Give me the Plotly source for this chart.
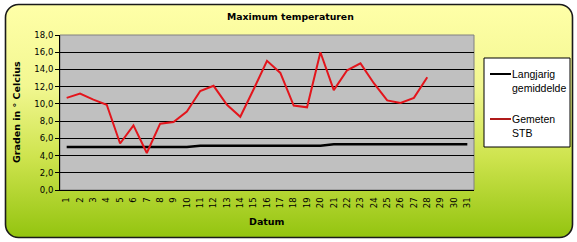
import base64
import plotly.graph_objects as go

# ---- data ----
days = list(range(1, 32))
day_labels = [str(d) for d in days]
langjarig = [5.0] * 10 + [5.15] * 10 + [5.3] * 11
gemeten = [10.7, 11.2, 10.5, 9.9, 5.4, 7.5, 4.3, 7.7, 7.9, 9.1,
           11.5, 12.1, 9.9, 8.5, 11.7, 15.0, 13.6, 9.8, 9.6, 16.0,
           11.6, 13.9, 14.7, 12.4, 10.4, 10.1, 10.7, 13.1]
gemeten_days = days[:len(gemeten)]
y_ticks = [0, 2, 4, 6, 8, 10, 12, 14, 16, 18]
y_ticklabels = ["0,0", "2,0", "4,0", "6,0", "8,0", "10,0", "12,0", "14,0", "16,0", "18,0"]
series_names = ["Langjarig<br>gemiddelde", "Gemeten<br>STB"]
title_text = "Maximum temperaturen"
x_title = "Datum"
y_title = "Graden in ° Celcius"

# ---- geometry (px) ----
W, H = 577, 242
L, R, T, B = 60, 474, 35, 190
pw, ph = R - L, B - T


def px(x):
    return (x - L) / pw


def py(y):
    return (B - y) / ph


RED = "#E3151C"

svg = f'''<svg xmlns="http://www.w3.org/2000/svg" width="{W}" height="{H}" viewBox="0 0 {W} {H}">
<defs><linearGradient id="g" x1="0" y1="0" x2="0" y2="1">
<stop offset="0" stop-color="#FFFFA8"/>
<stop offset="0.35" stop-color="#F2F791"/>
<stop offset="0.65" stop-color="#CFE44F"/>
<stop offset="1" stop-color="#93C40F"/>
</linearGradient></defs>
<rect x="5.5" y="4.5" width="{W-10}" height="{H-9}" rx="13" ry="13" fill="url(#g)" stroke="#1a1a1a" stroke-width="1.6"/>
</svg>'''
svg_uri = "data:image/svg+xml;base64," + base64.b64encode(svg.encode()).decode()

fig = go.Figure()
fig.add_trace(go.Scatter(x=days, y=langjarig, mode="lines", name="Langjarig gemiddelde",
                         line=dict(color="black", width=2.5), showlegend=False))
fig.add_trace(go.Scatter(x=gemeten_days, y=gemeten, mode="lines", name="Gemeten STB",
                         line=dict(color=RED, width=2), showlegend=False))

tickfont = dict(family="DejaVu Sans", size=8.5, color="black")

fig.update_layout(
    width=W, height=H,
    margin=dict(l=L, r=W - R, t=T, b=H - B, pad=0),
    paper_bgcolor="white",
    plot_bgcolor="rgba(0,0,0,0)",
    showlegend=False,
    images=[dict(source=svg_uri, xref="paper", yref="paper",
                 x=-L / pw, y=1 + T / ph, sizex=W / pw, sizey=H / ph,
                 xanchor="left", yanchor="top", sizing="stretch", layer="below")],
    xaxis=dict(range=[0.5, 31.5], tickmode="array", tickvals=days, ticktext=day_labels,
               tickangle=-90, tickfont=tickfont, showgrid=False, zeroline=False,
               showline=True, linecolor="black", linewidth=1, ticks="", ticklabelstandoff=3),
    yaxis=dict(range=[0, 18], tickmode="array", tickvals=y_ticks, ticktext=y_ticklabels,
               tickfont=tickfont, showgrid=True, gridcolor="black", gridwidth=1,
               zeroline=False, showline=True, linecolor="black", linewidth=1,
               ticks="outside", ticklen=4, tickcolor="black"),
    shapes=[
        dict(type="rect", xref="x domain", yref="y domain", x0=0, x1=1, y0=0, y1=1,
             fillcolor="#C0C0C0", line=dict(color="#808080", width=1), layer="below"),
        # legend box
        dict(type="rect", xref="paper", yref="paper", x0=px(484), x1=px(570), y0=py(147), y1=py(58),
             fillcolor="white", line=dict(color="black", width=1), layer="above"),
        dict(type="line", xref="paper", yref="paper", x0=px(490), x1=px(511), y0=py(74), y1=py(74),
             line=dict(color="black", width=2), layer="above"),
        dict(type="line", xref="paper", yref="paper", x0=px(490), x1=px(511), y0=py(119), y1=py(119),
             line=dict(color="#B01A1A", width=2), layer="above"),
    ],
    annotations=[
        dict(text=f"<b>{title_text}</b>", xref="paper", yref="paper", x=px(290), y=py(16),
             xanchor="center", yanchor="middle", showarrow=False,
             font=dict(family="DejaVu Sans", size=9.3, color="black")),
        dict(text=f"<b>{x_title}</b>", xref="paper", yref="paper", x=px(267), y=py(221),
             xanchor="center", yanchor="middle", showarrow=False,
             font=dict(family="DejaVu Sans", size=9.5, color="black")),
        dict(text=f"<b>{y_title}</b>", xref="paper", yref="paper", x=px(16), y=py(112),
             xanchor="center", yanchor="middle", textangle=-90, showarrow=False,
             font=dict(family="DejaVu Sans", size=9.5, color="black")),
        dict(text=series_names[0], xref="paper", yref="paper", x=px(510), y=py(81),
             xanchor="left", yanchor="middle", align="left", showarrow=False,
             font=dict(family="Liberation Sans", size=10.5, color="black")),
        dict(text=series_names[1], xref="paper", yref="paper", x=px(510), y=py(126),
             xanchor="left", yanchor="middle", align="left", showarrow=False,
             font=dict(family="Liberation Sans", size=10.5, color="black")),
    ],
)

fig.write_html("out.html")
